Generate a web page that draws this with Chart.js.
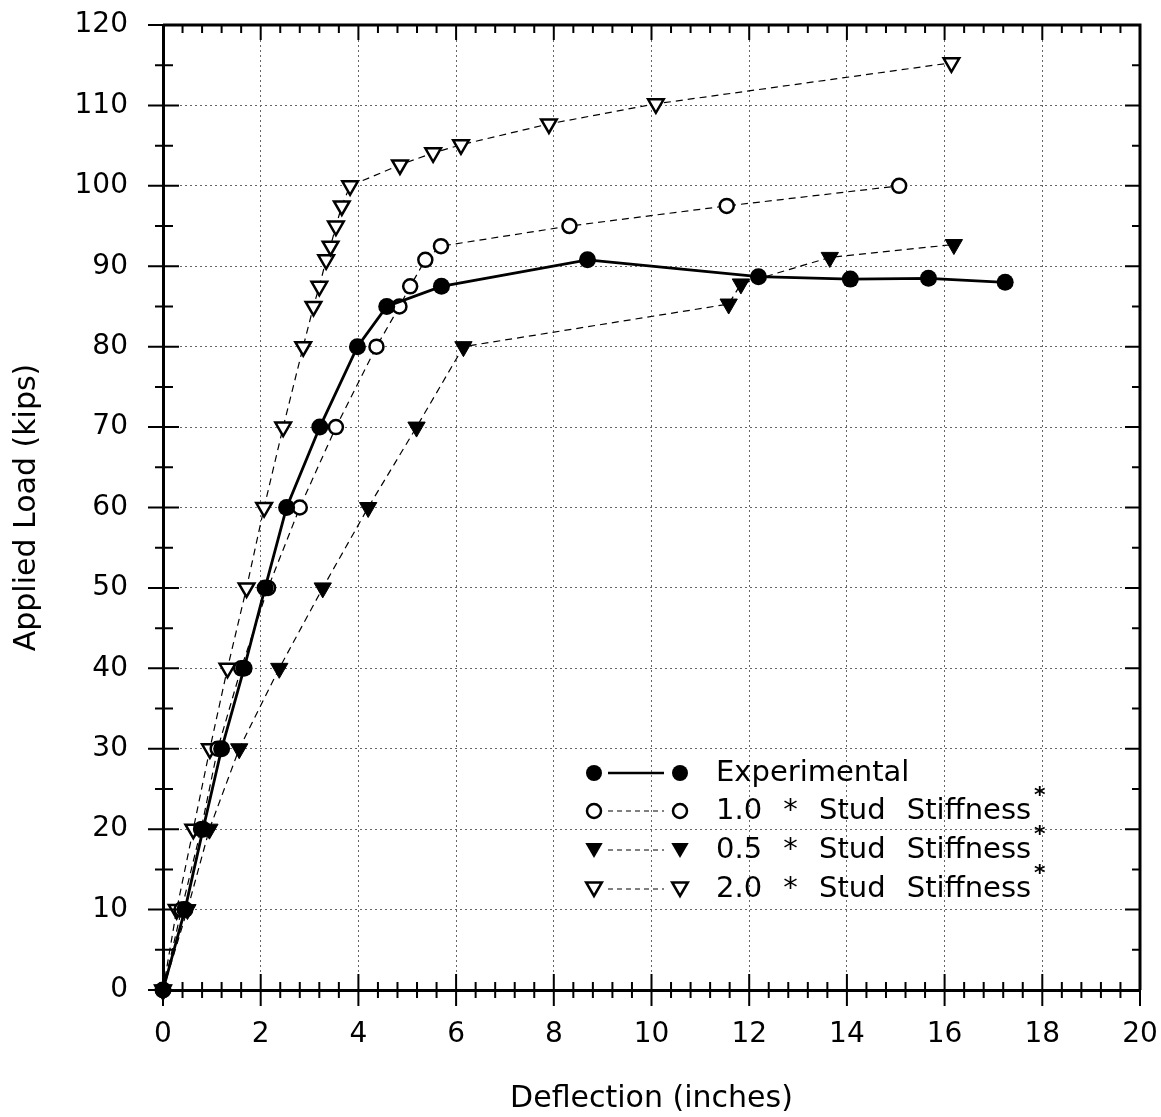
<head>
  <meta charset="utf-8" />
  <title>Applied load vs deflection</title>
  <script src="https://cdn.jsdelivr.net/npm/chart.js"></script>
  <style>
    body { margin: 0; background: #fff; }
  </style>
</head>

<body>
  <canvas id="loadChart" width="1161" height="1117"></canvas>
</body>

<script>
  // values (deflection in inches, load in kips)
  const deflExp = [0, 0.45, 0.82, 1.2, 1.66, 2.09, 2.53, 3.21, 3.98, 4.58, 5.70, 8.69, 12.19, 14.07, 15.67, 17.24];
  const loadExp = [0, 10, 20, 30, 40, 50, 60, 70, 80, 85, 87.5, 90.8, 88.7, 88.4, 88.5, 88.0];

  const defl10 = [0, 0.38, 0.78, 1.12, 1.6, 2.15, 2.80, 3.54, 4.37, 4.84, 5.06, 5.37, 5.69, 8.32, 11.54, 15.07];
  const load10 = [0, 10, 20, 30, 40, 50, 60, 70, 80, 85, 87.5, 90.8, 92.5, 95, 97.5, 100];

  const defl05 = [0, 0.5, 0.95, 1.56, 2.38, 3.27, 4.20, 5.19, 6.15, 11.58, 11.83, 13.65, 16.19];
  const load05 = [0, 10, 20, 30, 40, 50, 60, 70, 80, 85.3, 87.8, 91.1, 92.7];

  const defl20 = [0, 0.28, 0.62, 0.96, 1.32, 1.71, 2.07, 2.46, 2.87, 3.08, 3.20, 3.34, 3.43, 3.54, 3.66, 3.83, 4.85, 5.53, 6.10, 7.90, 10.09, 16.14];
  const load20 = [0, 10, 20, 30, 40, 50, 60, 70, 80, 85, 87.5, 90.8, 92.5, 95, 97.5, 100, 102.6, 104.1, 105.1, 107.7, 110.2, 115.3];

  const legendLabels = ["Experimental", "1.0 * Stud Stiffness", "0.5 * Stud Stiffness", "2.0 * Stud Stiffness"];

  const FONT = "'DejaVu Sans', sans-serif";
  const toPoints = (xs, ys) => xs.map((x, i) => ({ x: x, y: ys[i] }));

  function marker(ctx, kind, x, y, r) {
    ctx.save();
    ctx.strokeStyle = "#000";
    ctx.fillStyle = "#000";
    ctx.beginPath();
    if (kind === "dot" || kind === "ring") {
      ctx.arc(x, y, r, 0, Math.PI * 2);
    } else {
      // downward triangle
      ctx.moveTo(x - r * 0.87, y - r * 0.5);
      ctx.lineTo(x + r * 0.87, y - r * 0.5);
      ctx.lineTo(x, y + r);
      ctx.closePath();
    }
    if (kind === "dot" || kind === "tri") {
      ctx.fill();
    } else {
      ctx.fillStyle = "#fff";
      ctx.fill();
      ctx.lineWidth = 2.5;
      ctx.stroke();
    }
    ctx.restore();
  }

  // frame ticks on all four sides + legend box
  const framePlugin = {
    id: "frame",
    afterDraw(chart) {
      const ctx = chart.ctx;
      const xs = chart.scales.x;
      const ys = chart.scales.y;
      const a = chart.chartArea;
      ctx.save();
      ctx.strokeStyle = "#000";
      ctx.lineWidth = 3;
      // top + right border
      ctx.beginPath();
      ctx.moveTo(a.left, a.top);
      ctx.lineTo(a.right, a.top);
      ctx.lineTo(a.right, a.bottom);
      ctx.stroke();

      ctx.lineWidth = 2;
      for (let i = 0; i <= 50; i++) {
        const v = i * 0.4;
        const px = xs.getPixelForValue(v);
        const major = i % 5 === 0;
        ctx.beginPath();
        ctx.moveTo(px, a.bottom + (major ? 16 : 8));
        ctx.lineTo(px, a.bottom - (major ? 16 : 8));
        ctx.moveTo(px, a.top);
        ctx.lineTo(px, a.top + (major ? 15 : 8));
        ctx.stroke();
      }
      for (let i = 0; i <= 24; i++) {
        const v = i * 5;
        const py = ys.getPixelForValue(v);
        const major = i % 2 === 0;
        ctx.beginPath();
        ctx.moveTo(a.left - (major ? 15 : 8), py);
        ctx.lineTo(a.left + (major ? 16 : 10), py);
        ctx.moveTo(a.right, py);
        ctx.lineTo(a.right - (major ? 15 : 8), py);
        ctx.stroke();
      }

      // legend
      const kinds = ["dot", "ring", "tri", "open"];
      const sizes = [8, 7, 10, 9];
      const rows = [773, 811, 850, 889];
      rows.forEach((ry, i) => {
        ctx.save();
        ctx.strokeStyle = "#000";
        if (i === 0) {
          ctx.lineWidth = 2.5;
        } else {
          ctx.lineWidth = 1;
          ctx.setLineDash([5, 4]);
        }
        ctx.beginPath();
        ctx.moveTo(608, ry);
        ctx.lineTo(664, ry);
        ctx.stroke();
        ctx.restore();
        const dy = i >= 2 ? -2 : 0;
        marker(ctx, kinds[i], 594, ry + dy, sizes[i]);
        marker(ctx, kinds[i], 680, ry + dy, sizes[i]);
        ctx.save();
        ctx.fillStyle = "#000";
        ctx.font = "29px " + FONT;
        ctx.wordSpacing = "12px";
        ctx.textBaseline = "middle";
        ctx.textAlign = "left";
        ctx.fillText(legendLabels[i], 716, ry);
        if (i > 0) {
          const w = ctx.measureText(legendLabels[i]).width;
          ctx.font = "bold 22px " + FONT;
          ctx.fillText("*", 716 + w + 3, ry - 15);
        }
        ctx.restore();
      });
      ctx.restore();
    },
  };

  const noOverflow = (scale) => {
    scale.paddingLeft = 0;
    scale.paddingRight = 0;
    scale.paddingTop = 0;
    scale.paddingBottom = 0;
  };

  new Chart(document.getElementById("loadChart"), {
    type: "scatter",
    data: {
      datasets: [
        {
          label: legendLabels[0],
          data: toPoints(deflExp, loadExp),
          showLine: true,
          borderColor: "#000",
          backgroundColor: "#000",
          borderWidth: 2.8,
          pointRadius: 8.5,
          pointBorderWidth: 0,
          clip: false,
        },
        {
          label: legendLabels[1],
          data: toPoints(defl10, load10),
          showLine: true,
          borderColor: "#000",
          borderWidth: 1.2,
          borderDash: [7, 5],
          backgroundColor: "#fff",
          pointBackgroundColor: "#fff",
          pointBorderColor: "#000",
          pointRadius: 7,
          pointBorderWidth: 2.5,
          clip: false,
        },
        {
          label: legendLabels[2],
          data: toPoints(defl05, load05),
          showLine: true,
          borderColor: "#000",
          borderWidth: 1.2,
          borderDash: [7, 5],
          pointStyle: "triangle",
          rotation: 180,
          pointBackgroundColor: "#000",
          pointBorderColor: "#000",
          pointRadius: 10,
          pointBorderWidth: 1,
          clip: false,
        },
        {
          label: legendLabels[3],
          data: toPoints(defl20, load20),
          showLine: true,
          borderColor: "#000",
          borderWidth: 1.2,
          borderDash: [7, 5],
          pointStyle: "triangle",
          rotation: 180,
          pointBackgroundColor: "#fff",
          pointBorderColor: "#000",
          pointRadius: 9,
          pointBorderWidth: 2.5,
          clip: false,
        },
      ],
    },
    options: {
      responsive: false,
      animation: false,
      layout: { padding: { top: 25, right: 21, left: 0, bottom: 0 } },
      plugins: {
        legend: { display: false },
        tooltip: { enabled: false },
      },
      scales: {
        x: {
          type: "linear",
          min: 0,
          max: 20,
          ticks: {
            stepSize: 2,
            color: "#000",
            padding: 28,
            font: { family: FONT, size: 28 },
          },
          grid: { color: "#666", lineWidth: 1, drawTicks: false },
          border: { color: "#000", width: 3, dash: [2, 3] },
          title: {
            display: true,
            text: "Deflection (inches)",
            color: "#000",
            font: { family: FONT, size: 30 },
            padding: { top: 0, bottom: 0 },
          },
          afterFit(scale) { scale.height = 127; noOverflow(scale); },
        },
        y: {
          type: "linear",
          min: 0,
          max: 120,
          ticks: {
            stepSize: 10,
            color: "#000",
            padding: 35,
            font: { family: FONT, size: 28 },
          },
          grid: { color: "#666", lineWidth: 1, drawTicks: false },
          border: { color: "#000", width: 3, dash: [2, 3] },
          title: {
            display: true,
            text: "Applied Load (kips)",
            color: "#000",
            font: { family: FONT, size: 30 },
            padding: { top: 9, bottom: 0 },
          },
          afterFit(scale) { scale.width = 163; noOverflow(scale); },
        },
      },
    },
    plugins: [framePlugin],
  });
</script>
